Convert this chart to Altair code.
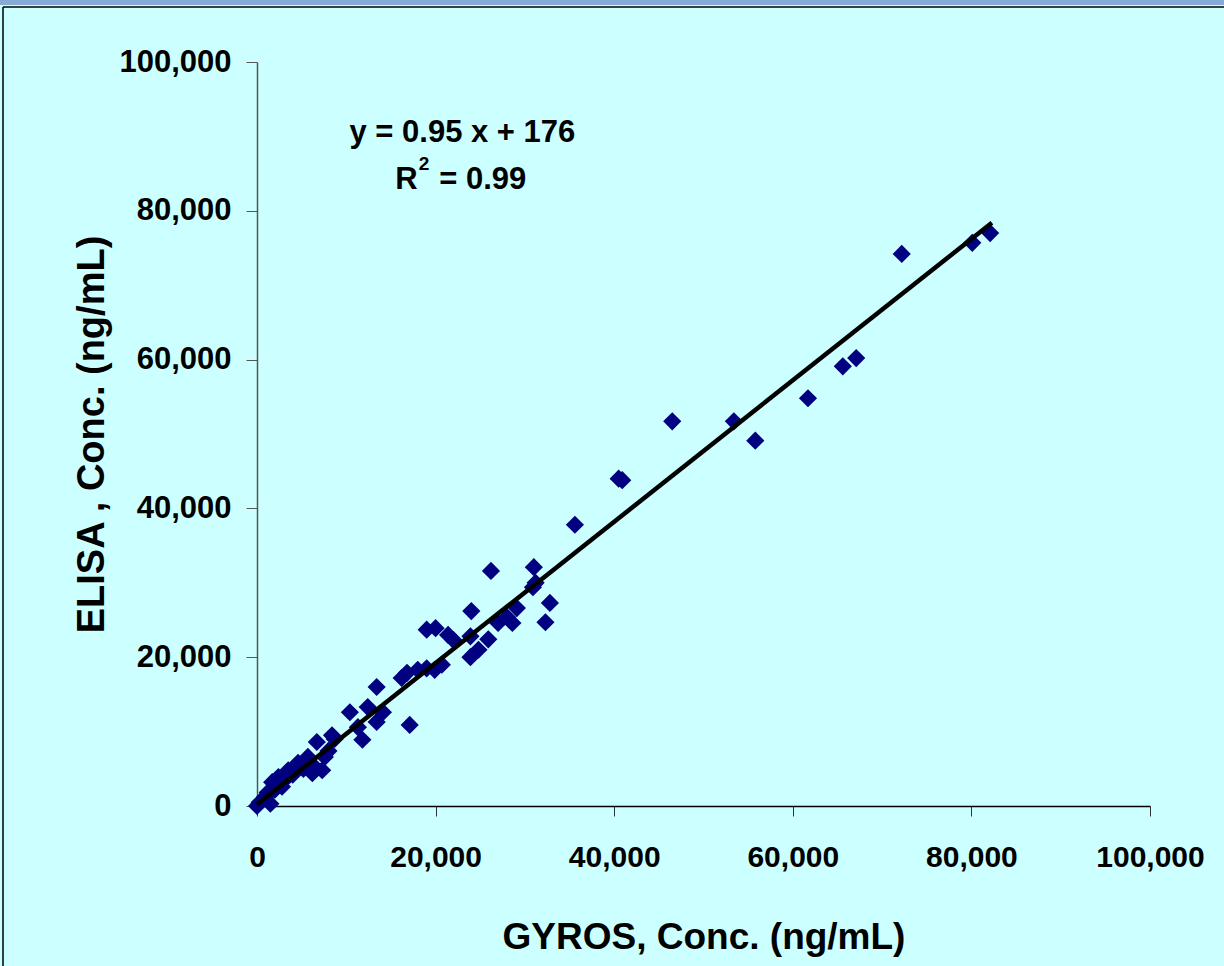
import altair as alt
import pandas as pd

# GYROS (x) and ELISA (y) concentrations, ng/mL
GYROS = [0, 300, 900, 1500, 1200, 1700, 2400, 2000, 2800, 3500, 3000, 4000, 4600, 5200,
         5700, 6200, 6500, 6700, 7300, 7600, 8000, 8400, 8700, 10400, 11300, 11800,
         12400, 13400, 13400, 14100, 16200, 16800, 17100, 18000, 19000, 19900, 20700,
         19000, 20000, 21400, 22000, 23900, 24800, 23900, 25900, 24000, 26200, 27000,
         28000, 28600, 29100, 30900, 31200, 31000, 32300, 32800, 35600, 40500, 40900,
         46500, 53400, 55800, 61700, 65600, 67100, 72200, 80100, 82100]
ELISA = [0, 500, 1200, 300, 1800, 3200, 3900, 2200, 2600, 4800, 3400, 4200, 5800, 5000,
         6600, 4400, 5200, 8600, 4800, 6600, 7400, 9500, 9000, 12600, 10600, 8900,
         13300, 16000, 11300, 12600, 17200, 17900, 10900, 18300, 18500, 18300, 19000,
         23700, 23900, 23000, 22300, 20000, 21000, 22800, 22400, 26200, 31600, 24600,
         25400, 24600, 26600, 29400, 30000, 32100, 24700, 27300, 37800, 44000, 43800,
         51700, 51700, 49100, 54800, 59100, 60200, 74200, 75700, 77000]

# trend line end points
LINE_X = [0, 82300]
LINE_Y = [200, 78400]

# annotation pieces
EQ_TEXT = ["y = 0.95 x + 176"]
EQ_X = [23000]
EQ_Y = [90500]
R_TEXT = ["R"]
R_X = [18000]
R_Y = [84100]
SUP_TEXT = ["2"]
SUP_X = [18700]
SUP_Y = [86300]
RV_TEXT = ["= 0.99"]
RV_X = [20400]
RV_Y = [84100]

TICKS = [0, 20000, 40000, 60000, 80000, 100000]

pts = pd.DataFrame({"x": GYROS, "y": ELISA})
line = pd.DataFrame({"x": LINE_X, "y": LINE_Y})

FONT = "Liberation Sans"

xscale = alt.Scale(domain=[0, 100000], nice=False, zero=True)
yscale = alt.Scale(domain=[0, 100000], nice=False, zero=True)

xaxis = alt.Axis(values=TICKS, format=",d", grid=False, title="GYROS, Conc. (ng/mL)",
                 labelFont=FONT, labelFontSize=30, labelFontWeight="bold", labelColor="black",
                 labelPadding=26, tickSize=10, tickColor="#333", domainColor="black",
                 domainWidth=1.5, labelFlush=False, labelOverlap=False,
                 titleFont=FONT, titleFontSize=37, titleFontWeight="bold", titleColor="black",
                 titleY=131, titleBaseline="middle")
yaxis = alt.Axis(values=TICKS, format=",d", grid=False, title="ELISA , Conc. (ng/mL)",
                 labelFont=FONT, labelFontSize=31, labelFontWeight="bold", labelColor="black",
                 labelPadding=15, tickSize=11, tickColor="#555", domainColor="#555",
                 domainWidth=1.5, labelFlush=False, labelOverlap=False,
                 titleFont=FONT, titleFontSize=38, titleFontWeight="bold", titleColor="black",
                 titleX=-165, titleBaseline="middle")

points = alt.Chart(pts).mark_point(shape="diamond", filled=True, size=330, color="#000080",
                                   opacity=1).encode(
    x=alt.X("x:Q", scale=xscale, axis=xaxis),
    y=alt.Y("y:Q", scale=yscale, axis=yaxis),
)

trend = alt.Chart(line).mark_line(color="black", strokeWidth=4.5).encode(
    x=alt.X("x:Q", scale=xscale),
    y=alt.Y("y:Q", scale=yscale),
)


def label(texts, xs, ys, size, align):
    df = pd.DataFrame({"t": texts, "x": xs, "y": ys})
    return alt.Chart(df).mark_text(font=FONT, fontSize=size, fontWeight="bold", color="black",
                                   align=align, baseline="middle").encode(
        x=alt.X("x:Q", scale=xscale),
        y=alt.Y("y:Q", scale=yscale),
        text="t:N",
    )


eq = label(EQ_TEXT, EQ_X, EQ_Y, 31, "center")
r_lab = label(R_TEXT, R_X, R_Y, 31, "right")
sup = label(SUP_TEXT, SUP_X, SUP_Y, 19, "center")
rv = label(RV_TEXT, RV_X, RV_Y, 31, "left")

# frame decorations (window strip and border)
strip = alt.Chart(pd.DataFrame({"a": [0]})).mark_rect(color="#86a9d6").encode(
    x=alt.value(-257), x2=alt.value(967), y=alt.value(-62), y2=alt.value(-57))
border_top = alt.Chart(pd.DataFrame({"a": [0]})).mark_rule(color="black", strokeWidth=1.5).encode(
    x=alt.value(-254), x2=alt.value(967), y=alt.value(-55))
border_left = alt.Chart(pd.DataFrame({"a": [0]})).mark_rule(color="black", strokeWidth=1.5).encode(
    x=alt.value(-254), y=alt.value(-55), y2=alt.value(904))

chart = alt.layer(strip, border_top, border_left, points, trend, eq, r_lab, sup, rv).properties(
    width=893, height=744,
    background="#CCFFFF",
    padding={"left": 257, "top": 62, "right": 74, "bottom": 160},
    autosize=alt.AutoSizeParams(type="none"),
).configure_view(stroke=None)

chart.save("out.html", embed_options={"renderer": "svg", "actions": False})
